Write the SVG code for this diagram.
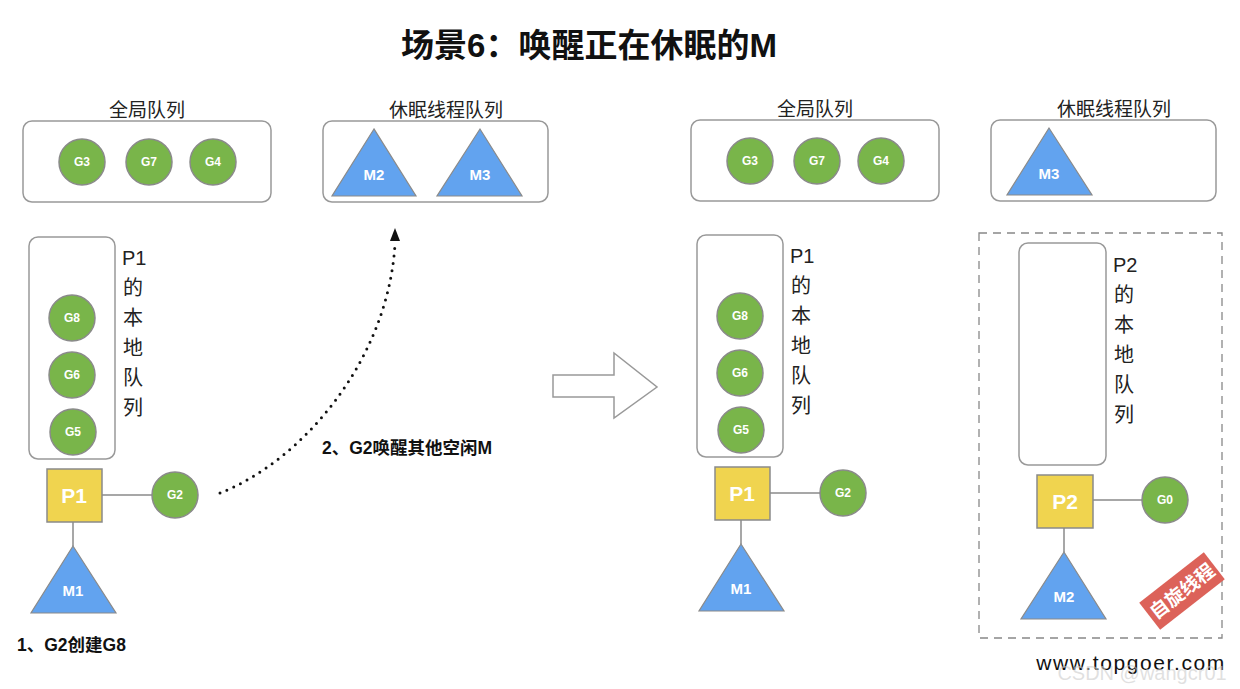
<svg xmlns="http://www.w3.org/2000/svg" width="1240" height="689" viewBox="0 0 1240 689">
<defs>
<style>
.box{fill:#fff;stroke:#999;stroke-width:1.5}
.g{fill:#79b54a;stroke:#8a8a8a;stroke-width:1.5}
.p{fill:#f0d44f;stroke:#8a8a8a;stroke-width:1.5}
.m{fill:#62a3ef;stroke:#8a8a8a;stroke-width:1.2}
.ln{stroke:#8a8a8a;stroke-width:1.5;fill:none}
.gt{font-family:"Liberation Sans","Noto Sans CJK SC",sans-serif;font-weight:bold;font-size:12px;fill:#fff;text-anchor:middle}
.pt{font-family:"Liberation Sans","Noto Sans CJK SC",sans-serif;font-weight:bold;font-size:21px;fill:#fff;text-anchor:middle}
.mt{font-family:"Liberation Sans","Noto Sans CJK SC",sans-serif;font-weight:bold;font-size:15px;fill:#fff;text-anchor:middle}
.qt{font-family:"Liberation Sans","Noto Sans CJK SC",sans-serif;font-size:19px;fill:#222;text-anchor:middle}
.vt{font-family:"Liberation Sans","Noto Sans CJK SC",sans-serif;font-size:20px;fill:#222}
.lb{font-family:"Liberation Sans","Noto Sans CJK SC",sans-serif;font-weight:bold;font-size:17.5px;fill:#111}
</style>
</defs>
<rect width="1240" height="689" fill="#fff"/>
<text x="589" y="57" font-family="'Liberation Sans','Noto Sans CJK SC',sans-serif" font-weight="bold" font-size="33" text-anchor="middle" fill="#111">场景6：唤醒正在休眠的M</text>

<!-- LEFT -->
<g id="global-queue-left">
<text class="qt" x="147" y="117">全局队列</text>
<rect class="box" x="23" y="121" width="248" height="81" rx="9"/>
<circle class="g" cx="82" cy="162" r="23"/><text class="gt" x="82" y="166">G3</text>
<circle class="g" cx="149" cy="162" r="23"/><text class="gt" x="149" y="166">G7</text>
<circle class="g" cx="213" cy="162" r="23"/><text class="gt" x="213" y="166">G4</text>
</g>
<g id="sleep-queue-left">
<text class="qt" x="446" y="117">休眠线程队列</text>
<rect class="box" x="323" y="121" width="225" height="81" rx="9"/>
<polygon class="m" points="374,129 332,196 416,196"/><text class="mt" x="374" y="180">M2</text>
<polygon class="m" points="480,129 437,196 522,196"/><text class="mt" x="480" y="180">M3</text>
</g>
<g id="p1-local-left">
<rect class="box" x="29" y="237" width="86" height="222" rx="9"/>
<circle class="g" cx="72" cy="318" r="23"/><text class="gt" x="72" y="322">G8</text>
<circle class="g" cx="72" cy="375" r="23"/><text class="gt" x="72" y="379">G6</text>
<circle class="g" cx="73" cy="432" r="23"/><text class="gt" x="73" y="436">G5</text>
<text class="vt" x="122" y="265">P1</text>
<text class="vt" x="123" y="295">的</text>
<text class="vt" x="123" y="325">本</text>
<text class="vt" x="123" y="355">地</text>
<text class="vt" x="123" y="385">队</text>
<text class="vt" x="123" y="415">列</text>
</g>
<g id="p1-left">
<line class="ln" x1="102" y1="495" x2="152" y2="495"/>
<line class="ln" x1="73" y1="522" x2="73" y2="546"/>
<rect class="p" x="47" y="469" width="55" height="53"/><text class="pt" x="74" y="503">P1</text>
</g>
<g id="g2-left"><circle class="g" cx="175" cy="495" r="23"/><text class="gt" x="175" y="499">G2</text></g>
<g id="m1-left"><polygon class="m" points="73,546 31,613 116,613"/><text class="mt" x="73" y="596">M1</text></g>
<text class="lb" x="17" y="651">1、G2创建G8</text>
<text class="lb" x="322" y="454">2、G2唤醒其他空闲M</text>

<g id="connectors">
<path d="M220,493 C300,462 388,362 395,244" fill="none" stroke="#111" stroke-width="3" stroke-linecap="round" stroke-dasharray="0 7.5"/>
<path d="M390,241 L395,228 L400,241 Z" fill="#111"/>
<polygon points="553,375 614,375 614,353 657,387 614,418 614,397 553,397" fill="#fff" stroke="#999" stroke-width="1.5"/>
</g>

<!-- RIGHT -->
<g id="global-queue-right">
<text class="qt" x="815" y="116">全局队列</text>
<rect class="box" x="691" y="120" width="248" height="81" rx="9"/>
<circle class="g" cx="750" cy="161" r="23"/><text class="gt" x="750" y="165">G3</text>
<circle class="g" cx="817" cy="161" r="23"/><text class="gt" x="817" y="165">G7</text>
<circle class="g" cx="881" cy="161" r="23"/><text class="gt" x="881" y="165">G4</text>
</g>
<g id="sleep-queue-right">
<text class="qt" x="1114" y="116">休眠线程队列</text>
<rect class="box" x="991" y="120" width="225" height="81" rx="9"/>
<polygon class="m" points="1049,128 1007,195 1092,195"/><text class="mt" x="1049" y="179">M3</text>
</g>
<g id="p1-local-right">
<rect class="box" x="697" y="235" width="86" height="222" rx="9"/>
<circle class="g" cx="740" cy="316" r="23"/><text class="gt" x="740" y="320">G8</text>
<circle class="g" cx="740" cy="373" r="23"/><text class="gt" x="740" y="377">G6</text>
<circle class="g" cx="741" cy="430" r="23"/><text class="gt" x="741" y="434">G5</text>
<text class="vt" x="790" y="263">P1</text>
<text class="vt" x="791" y="293">的</text>
<text class="vt" x="791" y="323">本</text>
<text class="vt" x="791" y="353">地</text>
<text class="vt" x="791" y="383">队</text>
<text class="vt" x="791" y="413">列</text>
</g>
<g id="p1-right">
<line class="ln" x1="770" y1="493" x2="820" y2="493"/>
<line class="ln" x1="741" y1="520" x2="741" y2="544"/>
<rect class="p" x="715" y="467" width="55" height="53"/><text class="pt" x="742" y="501">P1</text>
</g>
<g id="g2-right"><circle class="g" cx="843" cy="493" r="23"/><text class="gt" x="843" y="497">G2</text></g>
<g id="m1-right"><polygon class="m" points="741,544 699,611 784,611"/><text class="mt" x="741" y="594">M1</text></g>

<g id="spin-area">
<rect x="979" y="233" width="243" height="405" fill="none" stroke="#888" stroke-width="1.3" stroke-dasharray="8 6"/>
</g>
<g id="p2-local">
<rect class="box" x="1019" y="243" width="87" height="222" rx="9"/>
<text class="vt" x="1113" y="272">P2</text>
<text class="vt" x="1114" y="302">的</text>
<text class="vt" x="1114" y="332">本</text>
<text class="vt" x="1114" y="362">地</text>
<text class="vt" x="1114" y="392">队</text>
<text class="vt" x="1114" y="422">列</text>
</g>
<g id="p2">
<line class="ln" x1="1093" y1="500" x2="1142" y2="500"/>
<line class="ln" x1="1064" y1="528" x2="1064" y2="552"/>
<rect class="p" x="1037" y="475" width="56" height="53"/><text class="pt" x="1065" y="509">P2</text>
</g>
<g id="g0"><circle class="g" cx="1165" cy="500" r="23"/><text class="gt" x="1165" y="504">G0</text></g>
<g id="m2-right"><polygon class="m" points="1064,552 1021,619 1106,619"/><text class="mt" x="1064" y="602">M2</text></g>
<g id="spin-tag" transform="translate(1182,591) rotate(-38)">
<rect x="-41" y="-17" width="82" height="34" fill="#dc6259"/>
<text x="0" y="7" font-family="'Noto Sans CJK SC',sans-serif" font-weight="bold" font-size="19" fill="#fff" text-anchor="middle">自旋线程</text>
</g>
<text x="1131" y="670" font-family="'Liberation Sans',sans-serif" font-size="21" fill="#111" text-anchor="middle" letter-spacing="1.6">www.topgoer.com</text>
<text x="1142" y="680" font-family="'Liberation Sans',sans-serif" font-size="20" fill="#ccc" fill-opacity="0.6" text-anchor="middle">CSDN @wangcr01</text>
</svg>
